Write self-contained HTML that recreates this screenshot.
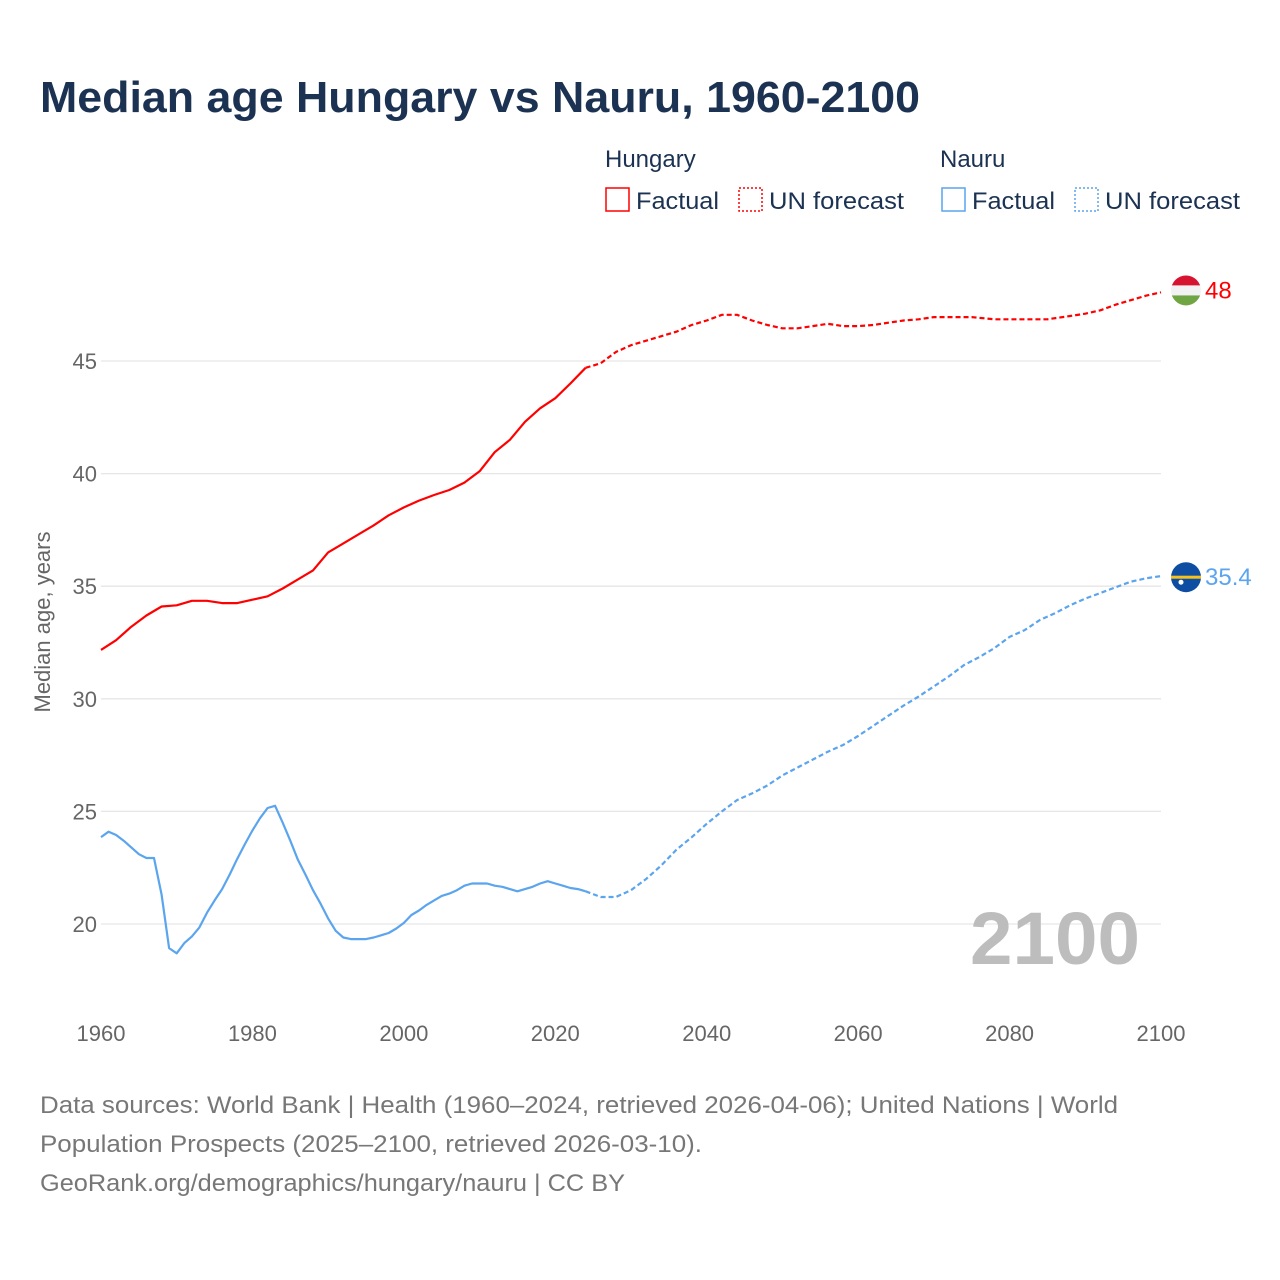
<!DOCTYPE html>
<html><head><meta charset="utf-8">
<style>
body{margin:0;background:#fff;font-family:"Liberation Sans",sans-serif;}
#wrap{position:relative;width:1280px;height:1280px;overflow:hidden;}
</style></head>
<body><div id="wrap">
<svg id="chart" width="1280" height="1280" style="position:absolute;left:0;top:0"></svg>
</div>
<script>
const hunYears=[1960,1962,1964,1966,1968,1970,1972,1974,1976,1978,1980,1982,1984,1986,1988,1990,1992,1994,1996,1998,2000,2002,2004,2006,2008,2010,2012,2014,2016,2018,2020,2022,2024];
const hunFact=[32.17,32.6,33.2,33.7,34.1,34.15,34.35,34.35,34.25,34.25,34.4,34.55,34.9,35.3,35.7,36.5,36.9,37.3,37.7,38.15,38.5,38.8,39.05,39.27,39.6,40.1,40.95,41.5,42.3,42.9,43.35,44.0,44.7];
const hunFcYears=[2024,2026,2028,2030,2032,2034,2036,2038,2040,2042,2044,2046,2048,2050,2052,2054,2056,2058,2060,2062,2064,2066,2068,2070,2075,2078,2085,2088,2090,2092,2094,2096,2098,2100];
const hunFc=[44.7,44.9,45.4,45.7,45.9,46.1,46.3,46.6,46.8,47.05,47.05,46.8,46.6,46.45,46.45,46.55,46.65,46.55,46.55,46.6,46.7,46.8,46.85,46.95,46.95,46.85,46.85,47.0,47.1,47.25,47.5,47.7,47.9,48.05];
const nauYears=[];for(let y=1960;y<=2024;y++)nauYears.push(y);
const nauFact=[23.86,24.1,23.95,23.7,23.4,23.1,22.93,22.93,21.3,18.93,18.7,19.15,19.45,19.85,20.5,21.05,21.55,22.2,22.9,23.55,24.15,24.7,25.15,25.25,24.5,23.7,22.85,22.2,21.5,20.9,20.25,19.7,19.4,19.33,19.33,19.33,19.4,19.5,19.6,19.8,20.05,20.4,20.6,20.85,21.05,21.25,21.35,21.5,21.7,21.8,21.8,21.8,21.7,21.65,21.55,21.45,21.55,21.65,21.8,21.9,21.8,21.7,21.6,21.55,21.45];
const nauFcYears=[2024,2026,2028,2030,2032,2034,2036,2038,2040,2042,2044,2046,2048,2050,2052,2054,2056,2058,2060,2062,2064,2066,2068,2070,2072,2074,2076,2078,2080,2082,2084,2086,2088,2090,2092,2094,2096,2098,2100];
const nauFc=[21.45,21.2,21.2,21.5,22.0,22.6,23.3,23.85,24.45,25.0,25.5,25.8,26.15,26.6,26.95,27.3,27.65,27.95,28.35,28.8,29.25,29.7,30.1,30.55,31.0,31.5,31.85,32.25,32.75,33.05,33.5,33.8,34.15,34.45,34.7,34.95,35.2,35.35,35.45];
const yTicks=[20,25,30,35,40,45];
const xTicks=[1960,1980,2000,2020,2040,2060,2080,2100];
const hunLast=48, nauLast=35.4;

const X=y=>101+(y-1960)*(1060/140);
const Y=v=>924-(v-20)*22.52;
const svg=document.getElementById('chart');
const NS='http://www.w3.org/2000/svg';
function mk(tag,attrs,parent){const e=document.createElementNS(NS,tag);for(const k in attrs)e.setAttribute(k,attrs[k]);(parent||svg).appendChild(e);return e;}
function txt(s,attrs,name){const t=mk('text',attrs);t.textContent=s;


return t;}

txt('Median age Hungary vs Nauru, 1960-2100',{x:40,y:112,'font-size':44,'font-weight':'bold',fill:'#1b3252',textLength:880,lengthAdjust:'spacingAndGlyphs'},'chart-title');

// legend
txt('Hungary',{x:605,y:167,'font-size':24,fill:'#1b3252'},'legend-hungary-title');
txt('Nauru',{x:940,y:167,'font-size':24,fill:'#1b3252'},'legend-nauru-title');
const legend=[[605,'#ff0000',false,'Factual','legend-hungary-factual',83],[738,'#ff0000',true,'UN forecast','legend-hungary-forecast',135],[941,'#5ba4ee',false,'Factual','legend-nauru-factual',83],[1074,'#5ba4ee',true,'UN forecast','legend-nauru-forecast',135]];
legend.forEach(l=>{const r=mk('rect',{x:l[0]+1,y:188,width:23,height:23,fill:'none',stroke:l[1],'stroke-width':1.5,'stroke-dasharray':l[2]?'2 2':'none'});


txt(l[3],{x:l[0]+31,y:209,'font-size':24,fill:'#1b3252',textLength:l[5],lengthAdjust:'spacingAndGlyphs'},l[4]);});

// grid + y ticks
yTicks.forEach(v=>{const g=mk('line',{x1:101,x2:1161,y1:Y(v),y2:Y(v),stroke:'#e6e6e6','stroke-width':1.3});


txt(String(v),{x:97,y:Y(v)+8,'font-size':22,fill:'#666','text-anchor':'end'},'y-tick-'+v);});
xTicks.forEach(v=>{txt(String(v),{x:X(v),y:1041,'font-size':22,fill:'#666','text-anchor':'middle'},'x-tick-'+v);});
txt('Median age, years',{x:0,y:0,'font-size':22,fill:'#666','text-anchor':'middle',transform:'translate(50,622) rotate(-90)'},'y-axis-title');

txt('2100',{x:1055,y:964,'font-size':74,'font-weight':'bold',fill:'#bdbdbd','text-anchor':'middle',textLength:170,lengthAdjust:'spacingAndGlyphs'},'year-watermark');

function line(xs,vs,color,dash,name){const d=xs.map((y,i)=>(i?'L':'M')+X(y).toFixed(1)+','+Y(vs[i]).toFixed(1)).join('');
const p=mk('path',{d:d,fill:'none',stroke:color,'stroke-width':2.2,'stroke-dasharray':dash?'5 3':'none','stroke-linejoin':'round'});

}
line(hunYears,hunFact,'#ff0000',false,'hungary-factual-line');
line(hunFcYears,hunFc,'#ff0000',true,'hungary-forecast-line');
line(nauYears,nauFact,'#5ba4ee',false,'nauru-factual-line');
line(nauFcYears,nauFc,'#5ba4ee',true,'nauru-forecast-line');

// end markers
const defs=mk('defs',{});
const cp=mk('clipPath',{id:'hc'},defs);
const hy=Y(hunLast)-3;
mk('circle',{cx:1186,cy:hy,r:15},cp);
const hg=mk('g',{'clip-path':'url(#hc)'});


mk('rect',{x:1171,y:hy-15,width:30,height:10,fill:'#d7142f'},hg);
mk('rect',{x:1171,y:hy-5,width:30,height:10,fill:'#f2f2f2'},hg);
mk('rect',{x:1171,y:hy+5,width:30,height:10,fill:'#6fa543'},hg);
txt(String(hunLast),{x:1205,y:hy+8,'font-size':24,fill:'#ff0000'},'hungary-end-label');
const ny=Y(nauLast);
const nc=mk('circle',{cx:1186,cy:ny,r:15,fill:'#0d4ea3'});


mk('rect',{x:1171,y:ny-1.5,width:30,height:3,fill:'#f5c11a'});
mk('circle',{cx:1181,cy:ny+5,r:2.5,fill:'#fff'});
txt(String(nauLast),{x:1205,y:ny+8,'font-size':24,fill:'#5ba4ee'},'nauru-end-label');

// footer
txt('Data sources: World Bank | Health (1960–2024, retrieved 2026-04-06); United Nations | World',{x:40,y:1113,'font-size':24,fill:'#777',textLength:1078,lengthAdjust:'spacingAndGlyphs'},'source-line-1');
txt('Population Prospects (2025–2100, retrieved 2026-03-10).',{x:40,y:1152,'font-size':24,fill:'#777',textLength:662,lengthAdjust:'spacingAndGlyphs'},'source-line-2');
txt('GeoRank.org/demographics/hungary/nauru | CC BY',{x:40,y:1191,'font-size':24,fill:'#777',textLength:585,lengthAdjust:'spacingAndGlyphs'},'source-url');
</script>
</body></html>
